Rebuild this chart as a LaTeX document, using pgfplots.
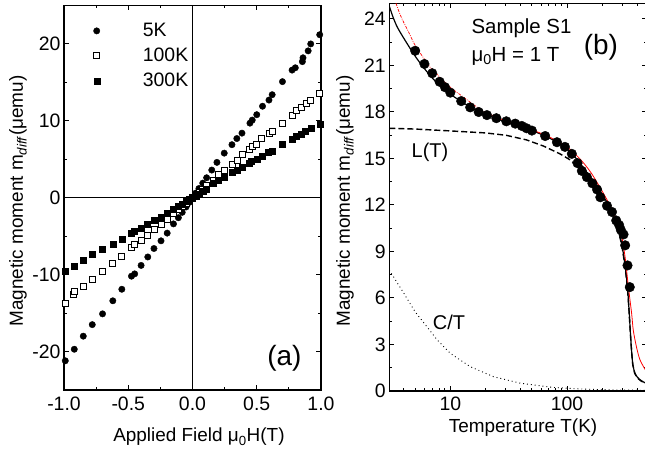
\documentclass[border=0pt]{standalone}
\usepackage{fontspec}
\setmainfont{Liberation Sans}
\usepackage{pgfplots}
\pgfplotsset{compat=1.18}

\pgfplotsset{
 originstyle/.style={
  scale only axis,
  anchor=south west,
  axis line style={line width=1.2bp},
  every tick/.style={line width=1bp, black},
  major tick length=5bp, minor tick length=3bp,
  tick align=inside,
  /pgf/number format/assume math mode=true,
  tick label style={font=\fontsize{19.5}{22}\selectfont},
  label style={font=\fontsize{19}{22}\selectfont},
 }
}

\begin{document}
\begin{tikzpicture}
\path[use as bounding box] (0,0) rectangle (645bp,452bp);

% ---------------- panel (a) ----------------
\begin{axis}[originstyle,
 at={(64bp,62bp)}, width=257bp, height=384.5bp,
 xmin=-1, xmax=1, ymin=-25, ymax=25,
 xtick={-1,-0.5,0,0.5,1}, xticklabels={-1.0,-0.5,0.0,0.5,1.0},
 minor x tick num=1,
 xticklabel style={yshift=-3bp},
 ytick={-20,-10,0,10,20}, minor y tick num=1,
 xlabel={Applied Field μ\textsubscript{0}H(T)},
 ylabel={Magnetic moment m\textsubscript{\textit{diff}}(μemu)},
 xlabel style={at={(axis description cs:0.525,-0.122)}, anchor=center},
 ylabel style={at={(axis description cs:-0.179,0.4915)}, anchor=center, rotate=0},
 legend cell align=left,
 legend style={draw=none, fill=none, at={(axis description cs:0.079,0.959)}, anchor=north west,
   font=\fontsize{19.5}{23}\selectfont, row sep=6bp, inner sep=0pt},
 legend image code/.code={\path (0bp,0bp) (56bp,0bp); \draw[#1] plot coordinates {(12bp,0bp)};},
]
\addplot[black, line width=0.8bp, forget plot] coordinates {(-1,0) (1,0)};
\addplot[black, line width=0.8bp, forget plot] coordinates {(0,-25) (0,25)};

\addplot[only marks, mark=*, mark size=3.2bp, black] table {
-0.99 -21.2
-0.92 -19.7
-0.85 -18.0
-0.78 -16.5
-0.70 -15.1
-0.62 -13.4
-0.55 -11.9
-0.475 -10.2
-0.45 -9.9
-0.40 -8.8
-0.348 -7.7
-0.30 -6.6
-0.245 -5.6
-0.197 -4.6
-0.148 -3.4
-0.11 -2.6
-0.08 -1.9
-0.05 -1.2
-0.025 -0.6
0 0
0.025 0.6
0.05 1.2
0.08 1.9
0.11 2.6
0.15 3.6
0.19 4.6
0.247 5.8
0.307 6.9
0.345 7.7
0.385 8.4
0.447 9.7
0.465 10.1
0.50 10.8
0.545 11.9
0.595 12.7
0.62 13.4
0.70 15.1
0.775 16.6
0.80 16.9
0.855 17.7
0.86 18.2
0.90 19.1
0.92 20.0
0.99 21.2
};
\addlegendentry{5K}

\addplot[only marks, mark=square*, mark size=3.0bp, black, fill=white, mark options={line width=0.8bp, fill=white}] table {
-0.99 -13.7
-0.93 -12.6
-0.92 -12.2
-0.85 -11.5
-0.78 -10.6
-0.70 -9.6
-0.625 -8.55
-0.55 -7.6
-0.475 -6.5
-0.45 -6.1
-0.40 -5.5
-0.35 -4.9
-0.30 -4.1
-0.245 -3.5
-0.197 -2.8
-0.148 -2.1
-0.11 -1.55
-0.08 -1.1
-0.05 -0.7
-0.025 -0.35
0 0
0.025 0.35
0.05 0.7
0.08 1.1
0.11 1.6
0.16 2.3
0.20 3.0
0.247 3.5
0.307 4.3
0.35 4.9
0.39 5.6
0.443 6.35
0.467 6.65
0.50 7.0
0.54 7.7
0.595 8.4
0.62 8.6
0.70 9.7
0.775 10.7
0.81 11.3
0.845 11.8
0.89 12.3
0.92 12.6
0.99 13.6
};
\addlegendentry{100K}

\addplot[only marks, mark=square*, mark size=3.0bp, black] table {
-0.99 -9.55
-0.92 -8.9
-0.85 -8.1
-0.78 -7.4
-0.70 -6.7
-0.62 -6.1
-0.55 -5.4
-0.48 -4.6
-0.45 -4.4
-0.40 -4.0
-0.35 -3.4
-0.30 -2.9
-0.245 -2.5
-0.197 -2.0
-0.148 -1.5
-0.11 -1.1
-0.08 -0.8
-0.05 -0.5
-0.025 -0.25
0 0
0.025 0.25
0.05 0.5
0.08 0.8
0.11 1.15
0.16 1.9
0.20 2.3
0.247 2.7
0.307 3.3
0.345 3.6
0.385 4.0
0.44 4.5
0.46 4.7
0.50 5.0
0.54 5.4
0.59 5.9
0.62 6.1
0.70 6.9
0.775 7.6
0.81 7.95
0.845 8.3
0.88 8.6
0.92 9.05
0.99 9.6
};
\addlegendentry{300K}

\node[font=\fontsize{28}{30}\selectfont] at (axis cs:0.715,-20.9) {(a)};
\end{axis}

% ---------------- panel (b) ----------------
\begin{axis}[originstyle,
 at={(389.3bp,61bp)}, width=257.2bp, height=387.5bp,
 xmode=log, xmin=3, xmax=480, ymin=0, ymax=25,
 xtick={10,100}, xticklabels={10,100},
 minor xtick={4,5,6,7,8,9,20,30,40,50,60,70,80,90,200,300,400},
 xticklabel style={yshift=-2bp},
 ytick={0,3,6,9,12,15,18,21,24}, minor y tick num=1,
 xlabel={Temperature T(K)},
 ylabel={Magnetic moment m\textsubscript{\textit{diff}}(μemu)},
 xlabel style={at={(axis description cs:0.52,-0.0955)}, anchor=center},
 ylabel style={at={(axis description cs:-0.172,0.49)}, anchor=center},
 clip=true,
]
% C/T dotted
\addplot[black, line width=0.9bp, dash pattern=on 0.9bp off 3bp] table {
3.0 7.8
4.0 6.3
5.0 5.1
6.3 4.15
7.7 3.3
10 2.43
14.8 1.57
23.5 0.92
40 0.5
76 0.23
140 0.12
250 0.07
480 0.04
};
% L(T) dashed
\addplot[black, line width=1.4bp, dash pattern=on 6bp off 3bp] table {
3 16.95
5 16.9
10 16.78
20 16.65
30 16.5
45 16.2
63 15.8
87 15.3
107 14.9
130 14.35
160 13.6
200 12.6
240 11.6
270 10.6
295 9.4
315 8.0
330 6.6
340 5.2
350 3.6
358 2.5
366 1.7
380 1.15
400 0.85
430 0.65
470 0.5
480 0.48
};
% total fit black solid
\addplot[black, line width=1.2bp, smooth] table {
2.95 25.0
3.2 24.2
3.5 23.5
4 22.75
5 21.6
6 20.8
7 20.2
8 19.75
10 19.15
12 18.75
15 18.3
20 17.85
30 17.35
40 17.05
50 16.8
65 16.45
82 16.05
100 15.6
120 15.0
140 14.35
160 13.75
200 12.7
240 11.65
270 10.65
295 9.45
315 8.05
330 6.65
340 5.25
350 3.65
358 2.55
366 1.75
380 1.2
400 0.9
430 0.68
470 0.52
480 0.5
};
% data
\addplot[only marks, mark=*, mark size=4.8bp, black] table {
5.0 21.95
6.0 21.1
7.0 20.5
8.1 19.95
9.0 19.6
10 19.25
12.4 18.7
14.8 18.3
17.5 18.0
20.6 17.8
24.8 17.6
30.2 17.4
36 17.25
41 17.1
45 16.95
50 16.8
65 16.45
82 16.05
96 15.75
110 15.3
123 14.7
134 14.2
148 13.8
165 13.4
181 13.0
193 12.5
220 11.95
243 11.55
264 11.0
280 10.7
289 10.4
305 10.1
315 9.4
330 8.1
345 6.7
};
% red fit
\addplot[red, line width=0.7bp, dash pattern=on 3bp off 1.2bp on 0.8bp off 1.2bp, smooth] table {
3.3 25.4
3.5 24.8
3.86 24.0
4.5 23.0
5 22.3
6.7 20.9
8 20.3
10 19.6
13 18.95
17.8 18.2
20 18.0
};
\addplot[red, line width=0.8bp, smooth] table {
20 18.0
25 17.65
35 17.25
50 16.85
70 16.4
100 15.75
130 14.95
160 14.1
200 12.9
240 11.8
270 10.9
295 9.95
315 8.6
336 6.7
358 5.0
370 3.9
395 2.8
420 2.05
450 1.6
480 1.25
};
\node[anchor=west, font=\fontsize{20.5}{23}\selectfont] at (rel axis cs:0.306,0.9355) {Sample S1};
\node[anchor=west, font=\fontsize{20.5}{23}\selectfont] at (rel axis cs:0.306,0.8645) {μ\textsubscript{0}H = 1 T};
\node[font=\fontsize{28}{30}\selectfont] at (rel axis cs:0.823,0.888) {(b)};
\node[font=\fontsize{20}{23}\selectfont] at (rel axis cs:0.158,0.617) {L(T)};
\node[font=\fontsize{20}{23}\selectfont] at (rel axis cs:0.232,0.178) {C/T};
\end{axis}
\end{tikzpicture}
\end{document}
